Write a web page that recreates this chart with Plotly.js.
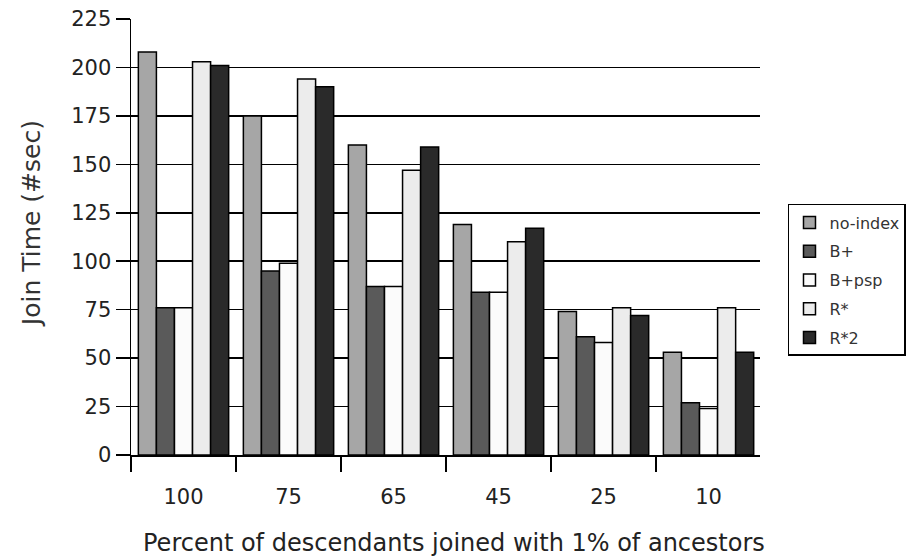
<!DOCTYPE html>
<html>
<head>
<meta charset="utf-8">
<script src="https://cdn.plot.ly/plotly-3.0.1.min.js"></script>
<style>html,body{margin:0;padding:0;background:#fff;}#chart{width:908px;height:557px;}</style>
</head>
<body>
<div id="chart"></div>
<script>
const categories = ["100", "75", "65", "45", "25", "10"];
const seriesNames = ["no-index", "B+", "B+psp", "R*", "R*2"];
const noIndex = [208, 175, 160, 119, 74, 53];
const bPlus   = [76, 95, 87, 84, 61, 27];
const bPlusPsp = [76, 99, 87, 84, 58, 24];
const rStar   = [203, 194, 147, 110, 76, 76];
const rStar2  = [201, 190, 159, 117, 72, 53];
const yTicks = [0, 25, 50, 75, 100, 125, 150, 175, 200, 225];
const xTitle = "Percent of descendants joined with 1% of ancestors";
const yTitle = "Join Time (#sec)";

const seriesValues = [noIndex, bPlus, bPlusPsp, rStar, rStar2];
const colors = ["#a6a6a6", "#5a5a5a", "#fbfbfb", "#ececec", "#2a2a2a"];

const traces = seriesNames.map((name, i) => ({
  type: "bar",
  name: name,
  x: categories,
  y: seriesValues[i],
  legendgroup: "g" + i,
  marker: {color: colors[i], line: {color: "#000", width: 1.5}},
  hoverinfo: "none"
}));

const FONT = "DejaVu Sans, Liberation Sans, Arial, sans-serif";

const layout = {
  width: 908, height: 557,
  margin: {l: 131, r: 148, t: 19, b: 102, autoexpand: false},
  paper_bgcolor: "#fff", plot_bgcolor: "#fff",
  font: {family: FONT, color: "#222"},
  barmode: "group",
  bargap: 0.14,
  bargroupgap: 0,
  xaxis: {
    type: "category",
    range: [-0.5, 5.49],
    tickson: "boundaries",
    ticks: "outside", ticklen: 15, tickwidth: 1.5, tickcolor: "#000",
    ticklabelstandoff: 22,
    showline: true, linecolor: "#000", linewidth: 1.5,
    showgrid: false, zeroline: false,
    tickfont: {size: 21, color: "#222", family: FONT}
  },
  yaxis: {
    range: [0, 225],
    tickvals: yTicks,
    ticks: "outside", ticklen: 14, tickwidth: 1.5, tickcolor: "#000",
    showline: true, linecolor: "#000", linewidth: 1.5,
    showgrid: true, gridcolor: "#000", gridwidth: 1.5,
    zeroline: false,
    tickfont: {size: 21, color: "#222", family: FONT}
  },
  annotations: [
    {text: xTitle, xref: "paper", yref: "paper", x: 0.513, y: -0.2018,
     xanchor: "center", yanchor: "middle", showarrow: false,
     font: {size: 24, color: "#222", family: FONT}},
    {text: yTitle, xref: "paper", yref: "paper", x: -0.157, y: 0.53,
     xanchor: "center", yanchor: "middle", showarrow: false, textangle: -90,
     font: {size: 25, color: "#333", family: FONT}}
  ],
  showlegend: true,
  legend: {
    x: 1.0445, xanchor: "left", y: 0.5757, yanchor: "top",
    bordercolor: "#000", borderwidth: 1.5, bgcolor: "#fff",
    font: {size: 16, color: "#333", family: FONT},
    traceorder: "grouped", tracegroupgap: 5,
    itemclick: false
  }
};

Plotly.newPlot("chart", traces, layout, {staticPlot: true, displayModeBar: false});
</script>
</body>
</html>
